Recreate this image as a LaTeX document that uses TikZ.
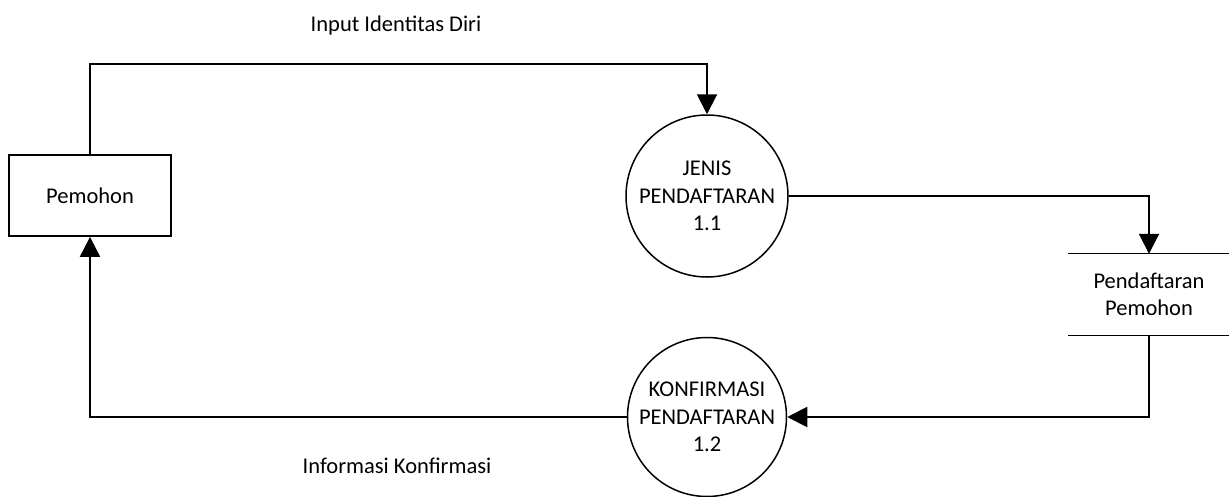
\documentclass[tikz,border=0pt]{standalone}
\usepackage{fontspec}
\setmainfont{Carlito}
\usetikzlibrary{arrows.meta}
\tikzset{
  flow/.style={line width=2pt, -{Triangle[length=20pt,width=20pt]}},
  entity/.style={draw, line width=1.8pt, minimum width=162pt, minimum height=81pt, inner sep=0pt},
  process/.style={draw, circle, line width=1.5pt, minimum size=#1, inner sep=0pt, align=center},
  datastore/.style={minimum width=161pt, minimum height=81pt, inner sep=0pt, align=center},
  label/.style={inner sep=0pt}
}
\begin{document}
\begin{tikzpicture}[x=1pt,y=-1pt,font=\fontsize{22.5}{27.5}\selectfont]
  \useasboundingbox (0,0) rectangle (1229,496);
  % external entity
  \node[entity] (pem) at (90,195.5) {Pemohon};
  % processes
  \node[process=162pt] (c1) at (707,196) {JENIS\\PENDAFTARAN\\1.1};
  \node[process=159pt] (c2) at (707,417) {KONFIRMASI\\PENDAFTARAN\\1.2};
  % data store
  \node[datastore] (store) at (1149,294.5) {Pendaftaran\\Pemohon};
  \draw[line width=1.3pt] (store.north west) -- (store.north east);
  \draw[line width=1.3pt] (store.south west) -- (store.south east);
  % data flows
  \draw[flow] (pem.north) -- ++(0,-90) -| (c1.north);
  \draw[flow] (c1.east) -| (store.north);
  \draw[flow] (store.south) |- (c2.east);
  \draw[flow] (c2.west) -| (pem.south);
  % flow labels
  \node[label] (l1) at (396,25) {Input Identitas Diri};
  \node[label] (l2) at (397,466) {Informasi Konfirmasi};
\end{tikzpicture}
\end{document}
